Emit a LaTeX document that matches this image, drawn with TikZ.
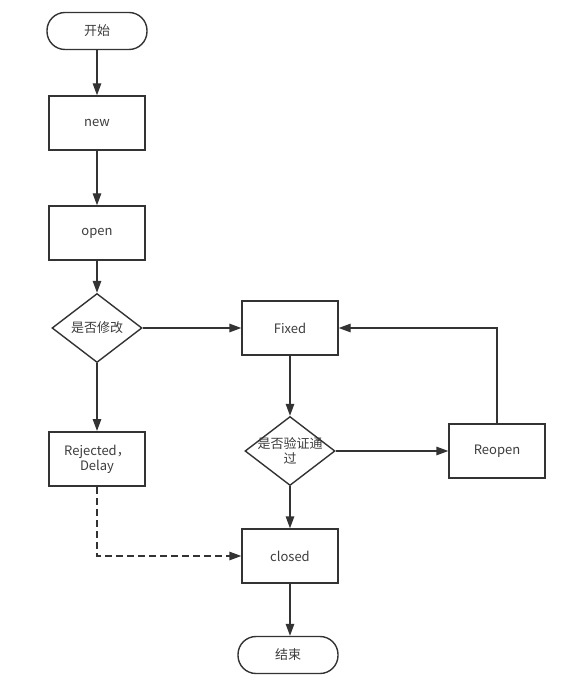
\documentclass[tikz,border=0pt]{standalone}
\usepackage{fontspec}
\setmainfont{Noto Sans CJK SC}
\usetikzlibrary{shapes.geometric,arrows.meta,positioning}
\definecolor{LineGray}{RGB}{51,51,51}
\definecolor{TextGray}{RGB}{60,60,60}
\tikzset{
	base/.style={draw=LineGray, line width=1.4pt, text=TextGray, font=\fontsize{13pt}{15pt}\selectfont, align=center, inner sep=0pt},
	terminal/.style={base, rounded corners=18pt, minimum width=100pt, minimum height=37pt},
	process/.style={base, minimum width=96pt, minimum height=54pt},
	decision/.style={base, diamond, minimum width=90pt, minimum height=69pt},
	flow/.style={draw=LineGray, line width=1.4pt, -{Triangle[length=12pt,width=8.5pt]}}
}
\begin{document}
\begin{tikzpicture}[x=1pt, y=-1pt]
	\useasboundingbox (0,0) rectangle (563,692);
%
	\node[terminal] (start) at (97,31) {开始};
	\node[process] (new) at (97,123) {new};
	\node[process] (open) at (97,233) {open};
	\node[decision] (modify) at (97,328) {是否修改};
	\node[process, line width=2pt] (reject) at (97,459) {Rejected，\\Delay};
	\node[process] (fixed) at (290,328) {Fixed};
	\node[decision] (check) at (290,451) {};
	\node[base, draw=none] (checktext) at (check) {是否验证通\\过};
	\node[process] (reopen) at (497,451) {Reopen};
	\node[process] (closed) at (290,556) {closed};
	\node[terminal] (finish) at (288,655) {结束};
%
	\draw[flow] (start) -- (new);
	\draw[flow] (new) -- (open);
	\draw[flow] (open) -- (modify);
	\draw[flow] (modify) -- (reject);
	\draw[flow] (modify) -- (fixed);
	\draw[flow] (fixed) -- (check);
	\draw[flow] (check) -- (reopen);
	\draw[flow] (check) -- (closed);
	\draw[flow] (reopen.north) |- (fixed.east);
	\draw[flow, dash pattern=on 7pt off 4pt] (reject.south) |- (closed.west);
	\draw[flow] (closed.south) -- (closed.south |- finish.north);
\end{tikzpicture}
\end{document}
